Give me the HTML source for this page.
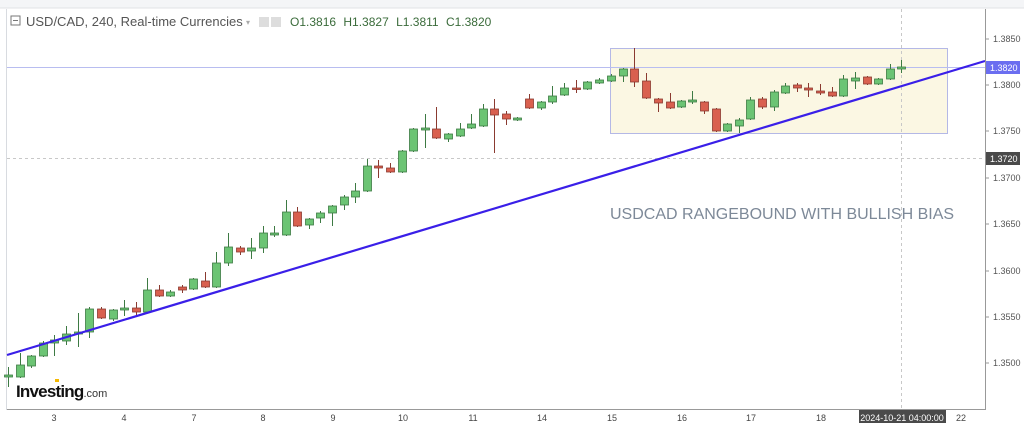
<!DOCTYPE html>
<html><head><meta charset="utf-8">
<style>
html,body{margin:0;padding:0;background:#fff;width:1024px;height:423px;overflow:hidden;font-family:"Liberation Sans",sans-serif}
</style></head><body>
<svg id="s" width="1024" height="423" xmlns="http://www.w3.org/2000/svg" font-family="Liberation Sans, sans-serif">
<rect x="0" y="0" width="1024" height="423" fill="#fff"/>
<rect x="0" y="0" width="1024" height="8" fill="#f4f5f7"/>
<line x1="0" y1="8" x2="1024" y2="8" stroke="#e0e2e6"/>
<line x1="6.5" y1="9" x2="6.5" y2="410" stroke="#d8dbe0"/>
<!-- range box -->
<rect x="610.5" y="48.5" width="337" height="85" fill="#fbf7e3" stroke="#b4b8e6" stroke-width="1"/>
<!-- horizontal lines -->
<line x1="7" y1="67.5" x2="985" y2="67.5" stroke="#b8bdf0" stroke-width="1"/>
<line x1="7" y1="158.5" x2="985" y2="158.5" stroke="#c8c8c8" stroke-dasharray="3,3"/>
<line x1="901.5" y1="9" x2="901.5" y2="410" stroke="#c8c8c8" stroke-dasharray="3,3"/>
<g id="c"></g>
<line x1="7" y1="355" x2="985" y2="61" stroke="#3a1fe8" stroke-width="2.2"/>
<!-- axes -->
<line x1="985.5" y1="9" x2="985.5" y2="410" stroke="#999"/>
<line x1="7" y1="409.5" x2="986" y2="409.5" stroke="#999"/>
<g font-size="9" fill="#555">
<text x="993" y="42">1.3850</text>
<text x="993" y="88">1.3800</text>
<text x="993" y="134">1.3750</text>
<text x="993" y="181">1.3700</text>
<text x="993" y="227">1.3650</text>
<text x="993" y="274">1.3600</text>
<text x="993" y="320">1.3550</text>
<text x="993" y="366">1.3500</text>
</g>
<g stroke="#999"><line x1="985" y1="39" x2="989" y2="39"/><line x1="985" y1="85" x2="989" y2="85"/><line x1="985" y1="131" x2="989" y2="131"/><line x1="985" y1="178" x2="989" y2="178"/><line x1="985" y1="224" x2="989" y2="224"/><line x1="985" y1="271" x2="989" y2="271"/><line x1="985" y1="317" x2="989" y2="317"/><line x1="985" y1="363" x2="989" y2="363"/></g>
<rect x="986" y="61" width="34" height="13" fill="#6b6ef0"/>
<text x="990" y="71" font-size="9" fill="#fff">1.3820</text>
<rect x="986" y="152" width="34" height="13" fill="#4a4a4a"/>
<text x="990" y="162" font-size="9" fill="#fff">1.3720</text>
<g font-size="9" fill="#444" text-anchor="middle">
<text x="54" y="421">3</text><text x="124" y="421">4</text><text x="194" y="421">7</text><text x="263" y="421">8</text>
<text x="333" y="421">9</text><text x="403" y="421">10</text><text x="473" y="421">11</text><text x="542" y="421">14</text>
<text x="612" y="421">15</text><text x="682" y="421">16</text><text x="751" y="421">17</text><text x="821" y="421">18</text>
<text x="961" y="421">22</text>
</g>
<rect x="859" y="410" width="87" height="13" fill="#4a4a4a"/>
<text x="902" y="421" font-size="9" fill="#fff" text-anchor="middle">2024-10-21 04:00:00</text>
<text x="610" y="219" font-size="16" fill="#7d8998">USDCAD RANGEBOUND WITH BULLISH BIAS</text>
<!-- header -->
<rect x="11" y="16" width="9" height="9" fill="none" stroke="#777"/>
<line x1="13" y1="20.5" x2="18" y2="20.5" stroke="#777"/>
<text x="26" y="26" font-size="13" fill="#555">USD/CAD, 240, Real-time Currencies</text>
<text x="246" y="25" font-size="8" fill="#aaa">▾</text>
<rect x="259" y="17" width="10" height="10" fill="#ddd"/><rect x="271" y="17" width="10" height="10" fill="#ddd"/>
<text x="290" y="26" font-size="12" fill="#3a6b3a">O1.3816 <tspan dx="4">H1.3827</tspan> <tspan dx="4">L1.3811</tspan> <tspan dx="4">C1.3820</tspan></text>
<text x="16" y="397" font-size="17" font-weight="bold" fill="#111" letter-spacing="-0.8">Investing<tspan font-size="11" font-weight="normal" fill="#333" letter-spacing="0">.com</tspan></text>
<rect x="55" y="379" width="4" height="3" fill="#f5b800"/>
</svg>
<script>
var d=[
[8,375,377,367,387,'g'],[20,365,377,353,378,'g'],[31,356,366,355,368,'g'],[43,343,356,341,357,'g'],[54,340,343,335,356,'g'],
[66,334,341,326,345,'g'],[78,332,334,313,347,'g'],[89,309,332,307,338,'g'],[101,309,318,307,319,'r'],[113,310,319,309,321,'g'],
[124,308,310,300,316,'g'],[136,308,312,302,316,'r'],[147,290,312,278,313,'g'],[159,290,296,285,297,'r'],[170,292,296,290,297,'g'],
[182,287,290,285,293,'r'],[193,279,289,278,290,'g'],[205,281,287,272,288,'r'],[216,263,287,252,288,'g'],[228,247,263,233,266,'g'],
[240,248,252,246,255,'r'],[251,248,251,238,259,'g'],[263,233,248,226,253,'g'],[274,233,235,226,237,'g'],[286,212,235,200,236,'g'],
[297,212,226,207,227,'r'],[309,219,225,218,229,'g'],[320,213,218,211,223,'g'],[332,206,213,205,226,'g'],[344,197,205,195,210,'g'],
[355,191,197,183,203,'g'],[367,166,191,159,192,'g'],[378,166,168,160,178,'r'],[390,168,172,163,173,'r'],[402,151,172,150,173,'g'],
[413,129,151,128,152,'g'],[425,128,130,114,148,'g'],[436,129,138,107,139,'r'],[448,134,139,133,142,'g'],[460,129,136,123,137,'g'],
[471,124,128,114,129,'g'],[483,109,126,104,127,'g'],[494,109,115,99,153,'r'],[506,114,119,111,125,'r'],[517,118,120,117,121,'g'],
[529,99,108,94,109,'r'],[541,102,108,101,110,'g'],[552,96,102,86,104,'g'],[564,88,95,83,96,'g'],[576,88,89,80,93,'r'],
[587,82,89,81,90,'g'],[599,80,83,78,84,'g'],[611,76,81,74,82,'g'],[623,69,76,68,82,'g'],[634,69,82,48,87,'r'],
[646,81,98,73,99,'r'],[658,99,103,98,112,'r'],[670,102,108,93,109,'r'],[681,101,107,100,108,'g'],[692,100,102,91,104,'g'],
[704,102,111,101,114,'r'],[716,109,131,108,132,'r'],[727,124,131,123,132,'g'],[739,120,126,118,133,'g'],[750,100,119,97,120,'g'],
[762,99,107,97,109,'r'],[774,92,107,90,111,'g'],[785,86,93,83,94,'g'],[797,85,88,83,92,'r'],[808,88,90,83,97,'r'],
[820,91,93,84,95,'r'],[832,92,96,87,97,'r'],[843,79,96,75,97,'g'],[855,78,81,72,89,'g'],[867,77,84,76,85,'r'],
[878,79,84,78,85,'g'],[890,69,79,64,80,'g'],[901,67,69,60,73,'g']];
var g=document.getElementById('c'),h='';
d.forEach(function(c){var x=c[0],f=c[5]=='g'?'#6cc474':'#d9604f',s=c[5]=='g'?'#3d7a43':'#8a3a30';
h+='<line x1="'+(x+.5)+'" y1="'+c[3]+'" x2="'+(x+.5)+'" y2="'+c[4]+'" stroke="'+s+'"/>';
var ht=Math.max(c[2]-c[1],1.5);
h+='<rect x="'+(x-3.5)+'" y="'+c[1]+'" width="8" height="'+ht+'" fill="'+f+'" stroke="'+s+'" stroke-width="0.8"/>';});
g.innerHTML=h;
</script>
</body></html>
